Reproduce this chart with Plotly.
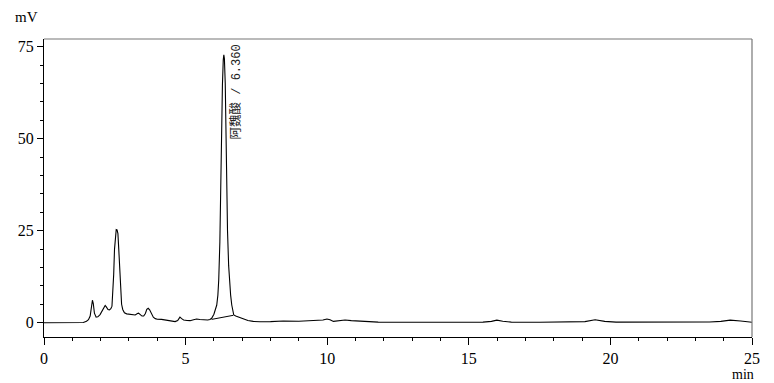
import plotly.graph_objects as go

# Chromatogram trace (time in min, signal in mV)
time_min = [0.00, 1.00, 1.39, 1.50, 1.57, 1.63, 1.67, 1.71, 1.74, 1.78, 1.84, 1.90,
            1.98, 2.06, 2.12, 2.16, 2.20, 2.26, 2.31, 2.36, 2.40, 2.43, 2.46, 2.49,
            2.52, 2.55, 2.58, 2.61, 2.64, 2.67, 2.70, 2.74, 2.78, 2.84, 2.92, 3.02,
            3.12, 3.22, 3.30, 3.34, 3.40, 3.46, 3.52, 3.58, 3.63, 3.68, 3.73, 3.79,
            3.86, 3.93, 4.00, 4.15, 4.33, 4.50, 4.63, 4.72, 4.80, 4.86, 4.93, 5.05,
            5.16, 5.28, 5.39, 5.50, 5.63, 5.78, 5.86, 5.92, 6.00, 6.06, 6.10, 6.14,
            6.17, 6.21, 6.24, 6.27, 6.30, 6.33, 6.35, 6.37, 6.40, 6.43, 6.45, 6.48,
            6.52, 6.55, 6.59, 6.63, 6.66, 6.70, 6.77, 6.90, 7.04, 7.20, 7.39, 7.63,
            8.00, 8.45, 9.00, 9.63, 9.85, 9.99, 10.10, 10.22, 10.40, 10.63, 10.85, 11.10,
            11.40, 11.80, 12.50, 13.50, 14.50, 15.50, 15.80, 15.99, 16.20, 16.50, 17.50, 18.50,
            19.10, 19.46, 19.80, 20.20, 21.50, 22.50, 23.50, 23.90, 24.23, 24.60, 25.00]
signal_mv = [0.0, 0.0, 0.05, 0.4, 0.8, 1.8, 3.8, 6.1, 5.2, 2.6, 1.5, 1.6,
             2.2, 3.2, 4.3, 4.7, 4.3, 3.6, 3.5, 3.8, 4.5, 7.5, 13.0, 20.0,
             24.5, 25.3, 25.2, 24.2, 20.0, 14.0, 8.5, 5.0, 3.6, 2.7, 2.4, 2.3,
             2.1, 2.1, 2.5, 2.6, 2.2, 1.8, 1.8, 2.5, 3.6, 3.9, 3.5, 2.4,
             1.5, 1.1, 0.95, 0.9, 0.75, 0.45, 0.3, 0.6, 1.5, 1.1, 0.75, 0.6,
             0.55, 0.8, 1.0, 0.85, 0.75, 0.75, 0.85, 1.2, 2.3, 3.5, 4.8, 7.5,
             11.6, 22.0, 38.8, 53.0, 64.5, 71.5, 72.8, 71.8, 65.0, 50.0, 38.8, 25.0,
             15.5, 11.6, 7.5, 4.8, 3.0, 2.1, 1.8, 1.4, 0.95, 0.6, 0.35, 0.25,
             0.3, 0.45, 0.4, 0.55, 0.75, 1.0, 0.8, 0.35, 0.55, 0.75, 0.55, 0.4,
             0.3, 0.15, 0.1, 0.1, 0.1, 0.15, 0.35, 0.7, 0.4, 0.15, 0.1, 0.1,
             0.3, 0.8, 0.35, 0.15, 0.1, 0.1, 0.2, 0.35, 0.7, 0.45, 0.1]

# Integration baseline under the labelled peak
baseline_time = [5.92, 6.68]
baseline_mv = [0.9, 2.0]

# Peak label
peak_names = ["阿魏酸"]
peak_times = [6.360]
peak_label_y = [62.6]

x_ticks = [0, 5, 10, 15, 20, 25]
y_ticks = [0, 25, 50, 75]

fig = go.Figure()
fig.add_trace(go.Scatter(x=time_min, y=signal_mv, mode="lines",
                         line=dict(color="#000000", width=1.1), hoverinfo="skip"))
fig.add_trace(go.Scatter(x=baseline_time, y=baseline_mv, mode="lines",
                         line=dict(color="#000000", width=1), hoverinfo="skip"))

font_main = "Liberation Serif, Noto Sans CJK SC, serif"

for name, t, ly in zip(peak_names, peak_times, peak_label_y):
    label = (f'<span style="font-family:Noto Sans CJK SC;font-size:12.5px">{name}</span>'
             f' / {t:.3f}')
    fig.add_annotation(x=t, y=ly, xref="x", yref="y", text=label,
                       textangle=-90, showarrow=False, xanchor="center", yanchor="middle",
                       xshift=10,
                       font=dict(family="Liberation Mono, monospace",
                                 size=12, color="#222222"))

fig.add_annotation(x=-0.0247, y=1.0755, xref="paper", yref="paper", text="mV",
                   showarrow=False, xanchor="center", yanchor="middle",
                   font=dict(family=font_main, size=15, color="#000000"))
fig.add_annotation(x=0.987, y=-0.125, xref="paper", yref="paper", text="min",
                   showarrow=False, xanchor="center", yanchor="middle",
                   font=dict(family=font_main, size=14, color="#000000"))

# top and right frame lines (grey)
fig.add_shape(type="line", xref="paper", yref="paper", x0=0, x1=1, y0=1, y1=1,
              line=dict(color="#777777", width=1.2))
fig.add_shape(type="line", xref="paper", yref="paper", x0=1, x1=1, y0=0, y1=1,
              line=dict(color="#777777", width=1.2))

fig.update_layout(
    width=774, height=383,
    margin=dict(l=44, r=22, t=39, b=46),
    paper_bgcolor="white", plot_bgcolor="white",
    showlegend=False,
    xaxis=dict(range=[0, 25], tickvals=x_ticks, ticks="outside", ticklen=7,
               tickcolor="#000000", tickwidth=1, showline=True, linecolor="#000000",
               linewidth=1.2, showgrid=False, zeroline=False,
               tickfont=dict(family=font_main, size=16, color="#000000"),
               minor=dict(dtick=1, ticks="outside", ticklen=3, tickcolor="#000000",
                          showgrid=False)),
    yaxis=dict(range=[-3.89, 77.1], tickvals=y_ticks, ticks="outside", ticklen=6,
               tickcolor="#000000", tickwidth=1, showline=True, linecolor="#000000",
               linewidth=1.2, showgrid=False, zeroline=False,
               tickfont=dict(family=font_main, size=16, color="#000000"),
               minor=dict(dtick=5, tick0=0, ticks="outside", ticklen=3,
                          tickcolor="#000000", showgrid=False)),
)

fig.write_html("out.html")
